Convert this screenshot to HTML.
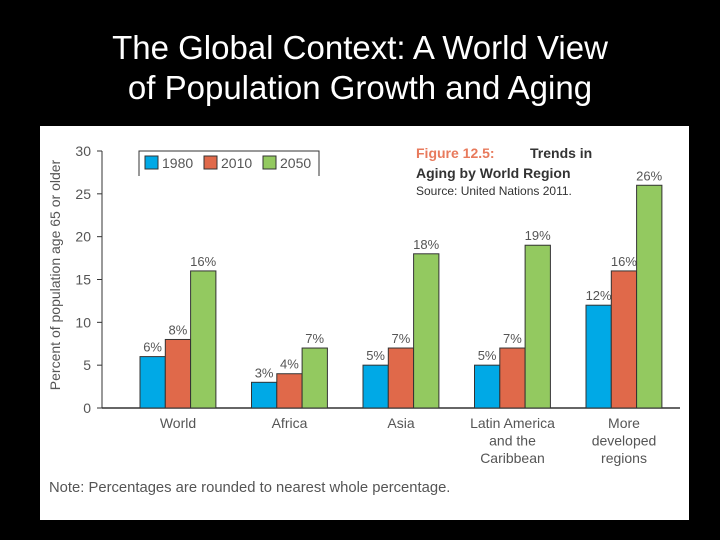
<!DOCTYPE html>
<html><head><meta charset="utf-8"><style>
body{margin:0;background:#000;width:720px;height:540px;overflow:hidden;font-family:"Liberation Sans",sans-serif}
#title{position:absolute;left:0;top:28px;width:720px;text-align:center;color:#fff;font-size:33px;line-height:40px}
#panel{position:absolute;left:40px;top:126px;width:649px;height:394px;background:#fff}
svg{position:absolute;left:0;top:0}
</style></head><body>
<div id="title">The Global Context: A World View<br>of Population Growth and Aging</div>
<div id="panel"></div>
<svg id="chart" width="720" height="540"></svg>
<script>
const categories=[["World"],["Africa"],["Asia"],["Latin America","and the","Caribbean"],["More","developed","regions"]];
const seriesNames=["1980","2010","2050"];
const v1980=[6,3,5,5,12];
const v2010=[8,4,7,7,16];
const v2050=[16,7,18,19,26];
const yTicks=[0,5,10,15,20,25,30];
const colors=["#00a9e6","#e0694a","#93c960"];
const NS="http://www.w3.org/2000/svg";
const svg=document.getElementById('chart');
function y(v){return 408-v*(257/30);}
function gx(i){return 140+i*111.5;}
function el(t,a,txt){const e=document.createElementNS(NS,t);for(const k in a)e.setAttribute(k,a[k]);if(txt!==undefined)e.textContent=txt;svg.appendChild(e);return e;}
yTicks.forEach(t=>{
  const l=el('line',{x1:97,x2:102,y1:y(t),y2:y(t),stroke:'#333','stroke-width':1});
  
  const tx=el('text',{x:91,y:y(t)+5,'text-anchor':'end','font-size':14,fill:'#555'},String(t));
  
});
const ax=el('line',{x1:102,x2:102,y1:151,y2:408,stroke:'#333','stroke-width':1});

const bx=el('line',{x1:102,x2:680,y1:408,y2:408,stroke:'#333','stroke-width':1.5});

const yt=el('text',{x:0,y:0,transform:'translate(60,275) rotate(-90)','text-anchor':'middle','font-size':14,fill:'#555'},'Percent of population age 65 or older');

const series=[v1980,v2010,v2050];
categories.forEach((c,i)=>{
  series.forEach((s,j)=>{
    const x=gx(i)+j*25.3;
    const r=el('rect',{x:x,y:y(s[i]),width:25.3,height:408-y(s[i]),fill:colors[j],stroke:'#333','stroke-width':1});
    
    const t=el('text',{x:x+12.6,y:y(s[i])-5,'text-anchor':'middle','font-size':13,fill:'#555'},s[i]+'%');
    
  });
  c.forEach((line,k)=>{
    const t=el('text',{x:gx(i)+38,y:428+k*17.5,'text-anchor':'middle','font-size':14,fill:'#555'},line);
    
  });
});
const lb=el('path',{d:'M139,176 V151 H319 V176',fill:'none',stroke:'#333','stroke-width':1});

[[145,'1980'],[204,'2010'],[263,'2050']].forEach((p,j)=>{
  const r=el('rect',{x:p[0],y:156,width:13,height:13,fill:colors[j],stroke:'#333','stroke-width':1});
  
  const t=el('text',{x:p[0]+17,y:168,'font-size':14,fill:'#555'},p[1]);
  
});
const f1=el('text',{x:416,y:158,'font-size':14,'font-weight':'bold',fill:'#e87a5c'},'Figure 12.5:');

const f2=el('text',{x:530,y:158,'font-size':14,'font-weight':'bold',fill:'#333'},'Trends in');

const f3=el('text',{x:416,y:178,'font-size':14,'font-weight':'bold',fill:'#333'},'Aging by World Region');

const f4=el('text',{x:416,y:195,'font-size':12,fill:'#333'},'Source: United Nations 2011.');

const n=el('text',{x:49,y:492,'font-size':14.8,fill:'#555'},'Note: Percentages are rounded to nearest whole percentage.');

</script>
</body></html>
